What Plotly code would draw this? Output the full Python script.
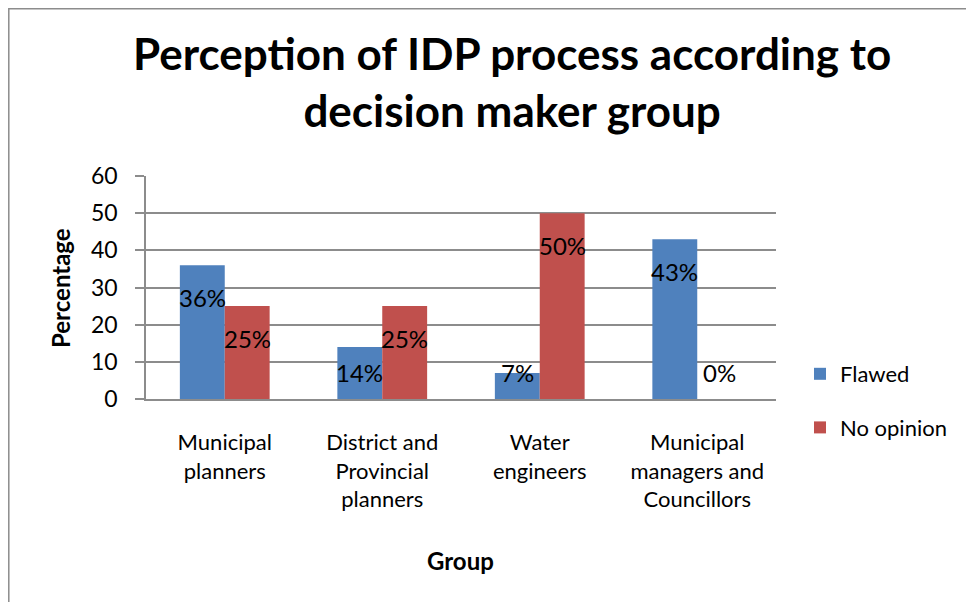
import plotly.graph_objects as go

categories = ["Municipal<br>planners", "District and<br>Provincial<br>planners",
              "Water<br>engineers", "Municipal<br>managers and<br>Councillors"]
flawed = [36, 14, 7, 43]
no_opinion = [25, 25, 50, 0]
series_names = ["Flawed", "No opinion"]
colors = ["#4F81BD", "#C0504D"]
yticks = [0, 10, 20, 30, 40, 50, 60]
title_text = "Perception of IDP process according to<br>decision maker group"
x_title = "Group"
y_title = "Percentage"

FONT = "Lato, 'Open Sans', sans-serif"

# page offset of the figure (default body margin of the html page)
OFF = 8
# plot area in page pixels: x 146..776, y 176..399
L, R, T, B = 146, 776, 176, 399
W, H = R - L, B - T

def px_x(p):
    return (p - L) / W

def px_y(p):
    return (B - p) / H

fig = go.Figure()
for name, vals, col in zip(series_names, [flawed, no_opinion], colors):
    fig.add_trace(go.Bar(x=categories, y=vals, name=name, marker_color=col,
                         marker_line_width=0, legendgroup=name))

# data labels (inside end, like Excel)
for vals, shift in zip([flawed, no_opinion], [-22.5, 22.5]):
    for c, v in zip(categories, vals):
        fig.add_annotation(x=c, y=max(v - 8.6, 7), text=f"{v}%", showarrow=False,
                           xshift=shift, yanchor="middle", xanchor="center",
                           font=dict(family=FONT, size=24, color="black"))

# title
fig.add_annotation(xref="paper", yref="paper", x=px_x(512), y=px_y(82),
                   text=f"<b>{title_text}</b>", showarrow=False,
                   xanchor="center", yanchor="middle",
                   font=dict(family=FONT, size=44, color="black"))
# axis titles
fig.add_annotation(xref="paper", yref="paper", x=px_x(60), y=px_y(288),
                   text=f"<b>{y_title}</b>", showarrow=False, textangle=-90,
                   xanchor="center", yanchor="middle",
                   font=dict(family=FONT, size=24, color="black"))
fig.add_annotation(xref="paper", yref="paper", x=px_x(460), y=px_y(560),
                   text=f"<b>{x_title}</b>", showarrow=False,
                   xanchor="center", yanchor="middle",
                   font=dict(family=FONT, size=24, color="black"))

# outer chart border
fig.add_shape(type="rect", xref="paper", yref="paper", x0=px_x(OFF + 0.8), x1=px_x(1100),
              y0=px_y(700), y1=px_y(OFF + 0.8),
              line=dict(color="#8c8c8c", width=1.5), fillcolor="rgba(0,0,0,0)", layer="below")

fig.update_layout(
    width=974, height=602,
    margin=dict(l=L - OFF, r=974 - R + OFF, t=T - OFF, b=602 - B + OFF, autoexpand=False),
    paper_bgcolor="white", plot_bgcolor="white",
    barmode="group", bargap=0.43, bargroupgap=0,
    font=dict(family=FONT, size=21, color="black"),
    legend=dict(x=px_x(800), y=px_y(401), xanchor="left", yanchor="middle",
                font=dict(family=FONT, size=22, color="black"),
                tracegroupgap=22, itemwidth=30, bgcolor="rgba(0,0,0,0)"),
    showlegend=True,
)
fig.update_xaxes(showline=True, linecolor="#8c8c8c", linewidth=1.5, showgrid=False,
                 ticks="", automargin=False, ticklabelstandoff=23,
                 tickfont=dict(family=FONT, size=22, color="black"))
fig.update_yaxes(range=[0, 60], tickvals=yticks, showline=True, linecolor="#8c8c8c",
                 linewidth=1.5, showgrid=True, gridcolor="#8c8c8c", gridwidth=1.5,
                 ticks="outside", ticklen=9, tickcolor="#8c8c8c", tickwidth=1.5,
                 zeroline=False, automargin=False, ticklabelstandoff=13,
                 tickfont=dict(family=FONT, size=23, color="black"))

fig.write_html("out.html")
